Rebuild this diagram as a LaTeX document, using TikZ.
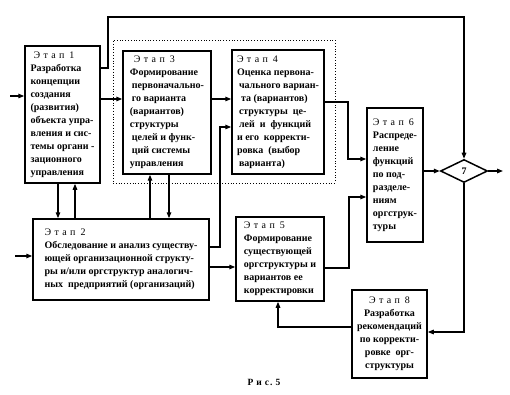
\documentclass[tikz,border=0pt]{standalone}
\usepackage{fontspec}
\setmainfont{Liberation Serif}
\usetikzlibrary{arrows.meta,shapes.geometric}
\newcommand{\etap}[1]{{\mdseries Э\hspace{3.4pt}т\hspace{3.4pt}а\hspace{3.4pt}п\hspace{5pt}#1}}
\tikzset{
  box/.style={draw, line width=1.5pt, inner sep=0pt, align=left,
    font=\fontsize{10}{13}\selectfont\bfseries},
  arr/.style={line width=1.3pt, -{Triangle[length=6pt,width=4.5pt]}},
  frame/.style={draw, dotted, line width=0.8pt, inner sep=0pt},
}
\begin{document}
\begin{tikzpicture}[x=1pt,y=-1pt]
\useasboundingbox (0,0) rectangle (510,395);
\node[frame, minimum width=222pt, minimum height=143pt] (fr) at (224,111.5) {};
\node[box, minimum width=75pt, minimum height=137pt] (s1) at (62.5,114.5)
  {\hspace{3pt}\etap{1}\\Разработка\\концепции\\создания\\(развития)\\объекта упра-\\вления и сис-\\темы органи -\\зационного\\управления};
\node[box, minimum width=88pt, minimum height=123pt] (s3) at (167,112.5)
  {\hspace{4pt}\etap{3}\\Формирование\\\hspace{2pt}первоначально-\\\hspace{2pt}го варианта\\(вариантов)\\структуры\\\hspace{2pt}целей и функ-\\\hspace{2pt}ций системы\\управления};
\node[box, minimum width=92pt, minimum height=124pt] (s4) at (278,112)
  {\etap{4}\\Оценка первона-\\\hspace{2pt}чального вариан-\\\hspace{4pt}та (вариантов)\\\hspace{2pt}структуры \ це-\\\hspace{2pt}лей \ и \ функций\\и его \ корректи-\\ровка \ (выбор\\\hspace{2pt}варианта)};
\node[box, minimum width=56pt, minimum height=134pt] (s6) at (395,175)
  {\etap{6}\\Распреде-\\ление\\функций\\по под-\\разделе-\\ниям\\оргструк-\\туры};
\node[box, minimum width=176pt, minimum height=81pt] (s2) at (121,259.5)
  {\etap{2}\\Обследование и анализ существу-\\ющей организационной структу-\\ры и/или оргструктур аналогич-\\ных \ предприятий (организаций)};
\node[box, minimum width=88pt, minimum height=84pt] (s5) at (280,259)
  {\etap{5}\\Формирование\\существующей\\оргструктуры и\\вариантов ее\\корректировки};
\node[box, minimum width=75pt, minimum height=88pt, align=center] (s8) at (389.5,334)
  {\etap{8}\\Разработка\\рекомендаций\\по корректи-\\ровке \ орг-\\структуры};
\node[draw, line width=1.5pt, diamond, aspect=2, inner sep=0pt, minimum width=47pt, minimum height=23pt,
  font=\fontsize{10}{12}\selectfont\bfseries] (d7) at (464,171) {7};
\node[font=\fontsize{9.5}{11}\selectfont\bfseries] (cap) at (264,382) {Р\hspace{3pt}и\hspace{3pt}с\hspace{1pt}.\hspace{3pt}5};
\coordinate (in1) at (10,96);
\coordinate (in2) at (15,256);
\coordinate (out) at (503,171);
\coordinate (t1) at (108,68);
\coordinate (t2) at (108,17);
\coordinate (h99) at (0,99);
\coordinate (b1) at (220,247);
\coordinate (b2) at (220,127);
\coordinate (c1) at (348,102);
\coordinate (c2) at (348,159);
\coordinate (e1) at (349,268);
\coordinate (e2) at (349,197);
\coordinate (h267) at (0,267);
\coordinate (f1) at (464,332);
\coordinate (g1) at (278,327);
\coordinate (v1) at (58,0);
\coordinate (v2) at (75,0);
\coordinate (v3) at (150,0);
\coordinate (v4) at (169,0);
\draw[arr] (in1) -- (in1 -| s1.west);
\draw[arr] (t1 -| s1.east) -- (t1) -- (t2) -| (d7.north);
\draw[arr] (h99 -| s1.east) -- (h99 -| s3.west);
\draw[arr] (h99 -| s3.east) -- (h99 -| s4.west);
\draw[arr] (b1 -| s2.east) -- (b1) -- (b2) -- (b2 -| s4.west);
\draw[arr] (c1 -| s4.east) -- (c1) -- (c2) -- (c2 -| s6.west);
\draw[arr] (s6.east |- d7) -- (d7.west);
\draw[arr] (d7.east) -- (out);
\draw[arr] (d7.south) -- (f1) -- (f1 -| s8.east);
\draw[arr] (g1 -| s8.west) -- (g1) -- (g1 |- s5.south);
\draw[arr] (in2) -- (in2 -| s2.west);
\draw[arr] (h267 -| s2.east) -- (h267 -| s5.west);
\draw[arr] (e1 -| s5.east) -- (e1) -- (e2) -- (e2 -| s6.west);
\draw[arr] (v1 |- s1.south) -- (v1 |- s2.north);
\draw[arr] (v2 |- s2.north) -- (v2 |- s1.south);
\draw[arr] (v3 |- s2.north) -- (v3 |- s3.south);
\draw[arr] (v4 |- s3.south) -- (v4 |- s2.north);
\end{tikzpicture}
\end{document}
